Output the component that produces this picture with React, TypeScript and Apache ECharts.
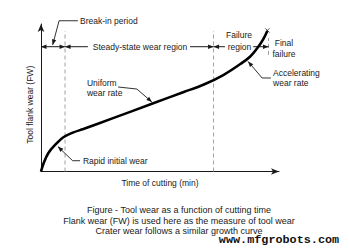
import React, { useEffect, useRef } from 'react';
import * as echarts from 'echarts';

// Tool wear curve (time of cutting vs flank wear, arbitrary units 0-100)
const timeOfCutting = [0, 1.1, 3.1, 5.9, 9.4, 13.6, 17.8, 30, 46.6, 60, 68.2, 76.6, 83.6, 87.8, 91.3, 93.4, 95.1];
const flankWear = [0, 5.6, 12.5, 18, 23.2, 26.5, 28.8, 36.0, 45.9, 53.9, 58.8, 65.4, 72.7, 77.8, 84.6, 89.8, 95.3];

// Phase boundaries (time) and their dashed extents (wear)
const phaseBoundaries = [10.1, 72.5, 95.6];
const boundaryTops = [95.3, 95.3, 90.5];
const boundaryBottoms = [0, 0, 79];
const regionRowWear = 84.6;

const axisNames = { x: 'Time of cutting (min)', y: 'Tool flank wear (FW)' };
const captionLines = [
  'Figure - Tool wear as a function of cutting time',
  'Flank wear (FW) is used here as the measure of tool wear',
  'Crater wear follows a similar growth curve',
];
const watermark = 'www.mfgrobots.com';

const FONT = "'Liberation Sans', Arial, Helvetica, sans-serif";
const INK = '#1a1a1a';

type Pt = number[];

function arrowHead(tip: Pt, from: Pt, len = 5.5, half = 2.2) {
  const dx = tip[0] - from[0];
  const dy = tip[1] - from[1];
  const d = Math.hypot(dx, dy) || 1;
  const ux = dx / d;
  const uy = dy / d;
  const bx = tip[0] - ux * len;
  const by = tip[1] - uy * len;
  return {
    type: 'polygon',
    shape: { points: [tip, [bx - uy * half, by + ux * half], [bx + uy * half, by - ux * half]] },
    style: { fill: INK },
  };
}

function label(text: string, p: Pt, align = 'left', lineHeight = 10) {
  return {
    type: 'text',
    style: {
      text,
      x: p[0],
      y: p[1],
      fontSize: 8.5,
      fontFamily: FONT,
      fill: INK,
      align,
      verticalAlign: 'middle',
      lineHeight,
    },
  };
}

export default function App() {
  const ref = useRef<HTMLDivElement>(null);

  useEffect(() => {
    if (!ref.current) return;
    const chart = echarts.init(ref.current, null, { renderer: 'svg' });

    const renderItem = (_params: any, api: any) => {
      const c = (x: number, y: number): Pt => api.coord([x, y]);
      const children: any[] = [];
      const seg = (a: Pt, b: Pt, style: any = {}) => ({
        type: 'line',
        shape: { x1: a[0], y1: a[1], x2: b[0], y2: b[1] },
        style: { stroke: INK, lineWidth: 1, ...style },
      });

      // dashed phase boundaries
      phaseBoundaries.forEach((b, i) => {
        children.push(
          seg(c(b, boundaryBottoms[i]), c(b, boundaryTops[i]), { stroke: '#a0a0a0', lineDash: [4, 3] })
        );
      });

      const r = regionRowWear;
      const [b0, b1, b2] = phaseBoundaries;
      // Break-in period arrow
      children.push(seg(c(0, r), c(b0, r)));
      children.push(arrowHead(c(0, r), c(b0, r)));
      children.push(arrowHead(c(b0, r), c(0, r)));
      // Steady-state region
      children.push(seg(c(b0, r), c(19.7, r)));
      children.push(arrowHead(c(b0, r), c(19.7, r)));
      children.push(seg(c(62.6, r), c(b1, r)));
      children.push(arrowHead(c(b1, r), c(62.6, r)));
      children.push(label('Steady-state wear region', c((b0 + b1) / 2 + 0.3, r), 'center'));
      // Failure region
      children.push(seg(c(b1, r), c(77.3, r)));
      children.push(arrowHead(c(b1, r), c(77.3, r)));
      children.push(seg(c(89.2, r), c(b2, r)));
      children.push(arrowHead(c(b2, r), c(89.2, r)));
      children.push(label('region', c(83.4, r), 'center'));
      children.push(label('Failure', c(83.2, 92.5), 'center'));
      children.push(label('Final\nfailure', c(102.1, 83.4), 'center', 11));

      // leaders
      const leaders = [
        { text: 'Break-in period', at: [16.4, 102.2], path: [[15.5, 102.2], [7.6, 102.2], [4.9, 85.8]] },
        { text: 'Uniform\nwear rate', at: [19.3, 56.6], path: [[32.4, 57.3], [40.3, 55.9], [46.6, 47.1]] },
        { text: 'Rapid initial wear', at: [17.6, 7.3], path: [[16.4, 7.3], [13.3, 7.3], [7.1, 16.9]] },
        { text: 'Accelerating\nwear rate', at: [97.5, 63.4], path: [[96.6, 63.4], [92.9, 63.4], [87.0, 74.6]] },
      ];
      leaders.forEach((l) => {
        const pts = l.path.map((p) => c(p[0], p[1]));
        children.push({ type: 'polyline', shape: { points: pts }, style: { stroke: INK, lineWidth: 0.9, fill: null } });
        children.push(arrowHead(pts[pts.length - 1], pts[pts.length - 2]));
        children.push(label(l.text, c(l.at[0], l.at[1])));
      });

      // small break mark at the end of the curve
      const end = c(timeOfCutting[timeOfCutting.length - 1], flankWear[flankWear.length - 1]);
      children.push(seg([end[0] - 2, end[1] - 2.5], [end[0] + 2, end[1] + 1.5], { lineWidth: 0.8 }));
      children.push(seg([end[0] + 2, end[1] - 2.5], [end[0] - 1, end[1] + 0.5], { lineWidth: 0.8 }));

      return { type: 'group', children };
    };

    chart.setOption({
      animation: false,
      backgroundColor: '#ffffff',
      grid: { left: 41, right: 70, top: 24, bottom: 79.5 },
      xAxis: {
        type: 'value',
        min: 0,
        max: 100,
        name: axisNames.x,
        nameLocation: 'middle',
        nameGap: 7,
        nameTextStyle: { fontFamily: FONT, fontSize: 8.5, color: INK },
        axisLine: { show: true, symbol: ['none', 'arrow'], symbolSize: [5, 8], lineStyle: { color: INK, width: 1 } },
        axisTick: { show: false },
        axisLabel: { show: false },
        splitLine: { show: false },
      },
      yAxis: {
        type: 'value',
        min: 0,
        max: 100,
        name: axisNames.y,
        nameLocation: 'middle',
        nameRotate: 90,
        nameGap: 7,
        nameTextStyle: { fontFamily: FONT, fontSize: 8.5, color: INK, padding: [0, 14, 0, 0] },
        axisLine: { show: true, symbol: ['none', 'arrow'], symbolSize: [5, 8], lineStyle: { color: INK, width: 1 } },
        axisTick: { show: false },
        axisLabel: { show: false },
        splitLine: { show: false },
      },
      series: [
        {
          type: 'line',
          data: timeOfCutting.map((t, i) => [t, flankWear[i]]),
          smooth: 0.35,
          showSymbol: false,
          lineStyle: { color: '#000', width: 2.6 },
          z: 3,
        },
        {
          type: 'custom',
          data: [[0, 0]],
          renderItem,
          z: 2,
          silent: true,
        },
      ],
      graphic: [
        ...captionLines.map((t, i) => ({
          type: 'text',
          x: 179,
          y: 210 + i * 10.7,
          style: { text: t, fontSize: 9, fontFamily: FONT, fill: INK, align: 'center', verticalAlign: 'middle' },
        })),
        {
          type: 'text',
          x: 279,
          y: 240,
          style: {
            text: watermark,
            fontSize: 11.8,
            fontWeight: 'bold',
            fontFamily: "'Liberation Mono', 'Courier New', monospace",
            fill: '#111',
            align: 'center',
            verticalAlign: 'middle',
          },
        },
      ],
    });

    return () => chart.dispose();
  }, []);

  return (
    <div
      ref={ref}
      style={{ position: 'absolute', left: 0, top: 0, width: 349, height: 251, background: '#fff' }}
    />
  );
}
